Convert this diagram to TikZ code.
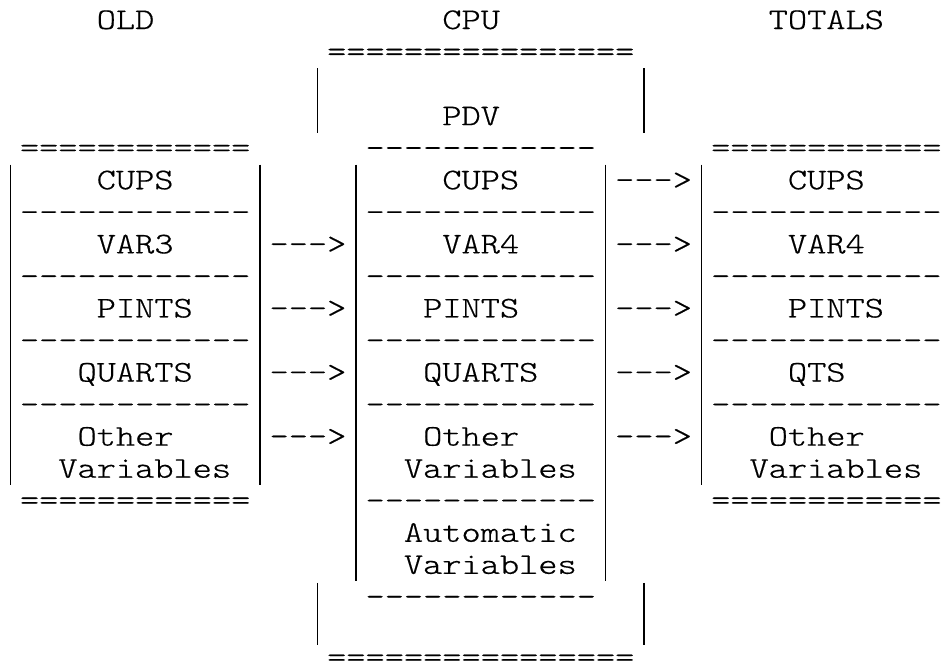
\documentclass[tikz,border=0pt]{standalone}
\usepackage{fontspec}
% light typewriter face, widened to a 19.2bp character cell
\newfontfamily\asciifont{lmmonolt10-regular.otf}[FakeStretch=1.219,FakeBold=0.5,Ligatures=TeXOff]
\begin{document}
\begin{tikzpicture}[x=19.2bp,y=-32.05bp,
  txt/.style={anchor=base west,inner sep=0pt,outer sep=0pt,
    font=\asciifont\fontsize{30bp}{32bp}\selectfont},
  bar/.style={line width=1.2bp,line cap=butt}]
\useasboundingbox (0bp,0bp) rectangle (943bp,-667bp);
\begin{scope}[shift={(0.75bp,-29bp)}]
  % column headings
  \node[txt] (oldT) at (5,0) {OLD};
  \node[txt] (cpuT) at (23,0) {CPU};
  \node[txt] (totT) at (40,0) {TOTALS};
  % CPU frame and PDV
  \node[txt] (cpuTop) at (17,1) {================};
  \node[txt] (pdv) at (23,3) {PDV};
  \node[txt] (cpuBot) at (17,19.9) {================};
  % row 4
  \node[txt] (oldTop) at (1,4) {============};
  \node[txt] (pdvTop) at (19,4) {------------};
  \node[txt] (totTop) at (37,4) {============};
  % CUPS
  \node[txt] (oldCups) at (5,5) {CUPS};
  \node[txt] (pdvCups) at (23,5) {CUPS};
  \node[txt] (arCups) at (32,5) {--->};
  \node[txt] (totCups) at (41,5) {CUPS};
  \node[txt] (oldS1) at (1,6) {------------};
  \node[txt] (pdvS1) at (19,6) {------------};
  \node[txt] (totS1) at (37,6) {------------};
  % VAR3 / VAR4
  \node[txt] (oldVar) at (5,7) {VAR3};
  \node[txt] (alVar) at (14,7) {--->};
  \node[txt] (pdvVar) at (23,7) {VAR4};
  \node[txt] (arVar) at (32,7) {--->};
  \node[txt] (totVar) at (41,7) {VAR4};
  \node[txt] (oldS2) at (1,8) {------------};
  \node[txt] (pdvS2) at (19,8) {------------};
  \node[txt] (totS2) at (37,8) {------------};
  % PINTS
  \node[txt] (oldPints) at (5,9) {PINTS};
  \node[txt] (alPints) at (14,9) {--->};
  \node[txt] (pdvPints) at (22,9) {PINTS};
  \node[txt] (arPints) at (32,9) {--->};
  \node[txt] (totPints) at (41,9) {PINTS};
  \node[txt] (oldS3) at (1,10) {------------};
  \node[txt] (pdvS3) at (19,10) {------------};
  \node[txt] (totS3) at (37,10) {------------};
  % QUARTS / QTS
  \node[txt] (oldQ) at (4,11) {QUARTS};
  \node[txt] (alQ) at (14,11) {--->};
  \node[txt] (pdvQ) at (22,11) {QUARTS};
  \node[txt] (arQ) at (32,11) {--->};
  \node[txt] (totQ) at (41,11) {QTS};
  \node[txt] (oldS4) at (1,12) {------------};
  \node[txt] (pdvS4) at (19,12) {------------};
  \node[txt] (totS4) at (37,12) {------------};
  % other variables
  \node[txt] (oldO1) at (4,13) {Other};
  \node[txt] (alO) at (14,13) {--->};
  \node[txt] (pdvO1) at (22,13) {Other};
  \node[txt] (arO) at (32,13) {--->};
  \node[txt] (totO1) at (40,13) {Other};
  \node[txt] (oldO2) at (3,14) {Variables};
  \node[txt] (pdvO2) at (21,14) {Variables};
  \node[txt] (totO2) at (39,14) {Variables};
  \node[txt] (oldEnd) at (1,15) {============};
  \node[txt] (pdvS5) at (19,15) {------------};
  \node[txt] (totEnd) at (37,15) {============};
  % automatic variables
  \node[txt] (pdvA1) at (21,16) {Automatic};
  \node[txt] (pdvA2) at (21,17) {Variables};
  \node[txt] (pdvEnd) at (19,18) {------------};
  % vertical rules
  \draw[bar] (0.5,4.232) -- (0.5,14.232);
  \draw[bar] (13.5,4.232) -- (13.5,14.232);
  \draw[bar] (36.5,4.232) -- (36.5,14.232);
  \draw[bar] (18.5,4.232) -- (18.5,17.232);
  \draw[bar] (31.5,4.232) -- (31.5,17.232);
  \draw[bar] (16.5,1.232) -- (16.5,3.232);
  \draw[bar] (33.5,1.232) -- (33.5,3.232);
  \draw[bar] (16.5,17.282) -- (16.5,19.232);
  \draw[bar] (33.5,17.282) -- (33.5,19.232);
\end{scope}
\end{tikzpicture}
\end{document}
